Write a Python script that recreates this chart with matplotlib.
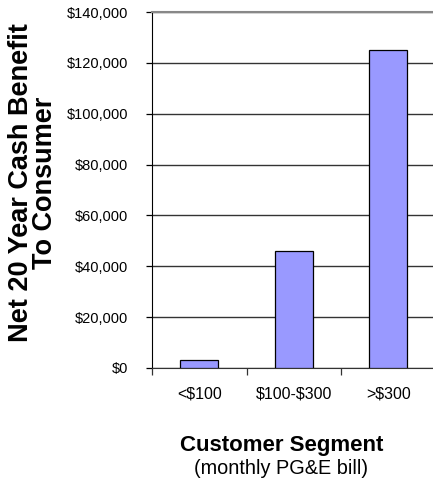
import matplotlib
matplotlib.use("Agg")
import matplotlib.pyplot as plt
from matplotlib.ticker import FuncFormatter, FixedLocator

categories = ["<$100", "$100-$300", ">$300"]
values = [3000, 46000, 125000]
yticks = [0, 20000, 40000, 60000, 80000, 100000, 120000, 140000]

plt.rcParams['font.family'] = ['Liberation Sans', 'DejaVu Sans']

fig = plt.figure(figsize=(4.33, 4.8), dpi=100)
W, H = 433, 480
left, right, top, bottom = 152, 435.5, 12, 368
ax = fig.add_axes([left / W, 1 - bottom / H, (right - left) / W, (bottom - top) / H])

x = list(range(len(categories)))
ax.bar(x, values, width=0.4, color="#9999FF", edgecolor="black", linewidth=0.9, zorder=3)

ax.set_xlim(-0.5, 2.5)
ax.set_ylim(0, 140000)
ax.set_yticks(yticks)
ax.yaxis.set_major_formatter(FuncFormatter(lambda v, p: "\\${:,.0f}".format(v)))
ax.yaxis.grid(True, color="#333333", linewidth=1.0, zorder=0)
ax.set_axisbelow(True)

ax.xaxis.set_major_locator(FixedLocator([-0.5, 0.5, 1.5, 2.5]))
ax.xaxis.set_minor_locator(FixedLocator(x))
ax.set_xticklabels([], minor=False)
ax.set_xticklabels([c.replace("$", "\\$") for c in categories], minor=True)
ax.tick_params(axis='x', which='major', length=5, direction='out', width=0.9, color='#333333')
ax.tick_params(axis='x', which='minor', length=0, pad=13, labelsize=11.5)
ax.tick_params(axis='y', length=4, direction='out', width=0.9, labelsize=10.5, pad=13)

ax.spines['right'].set_visible(False)
ax.spines['top'].set_color('#888888')
ax.spines['top'].set_linewidth(1.5)
ax.spines['left'].set_color('black')
ax.spines['bottom'].set_color('#333333')

fig.text(33 / W, 1 - 183 / H, "Net 20 Year Cash Benefit\nTo Consumer", rotation=90,
         ha='center', va='center', fontsize=19.5, fontweight='bold', linespacing=0.85)

fig.text(281.5 / W, 1 - 446 / H, "Customer Segment", ha='center', va='center',
         fontsize=16, fontweight='bold')
fig.text(281.5 / W, 1 - 468 / H, "(monthly PG&E bill)", ha='center', va='center',
         fontsize=14.3)

fig.savefig("out.png", dpi=100)
